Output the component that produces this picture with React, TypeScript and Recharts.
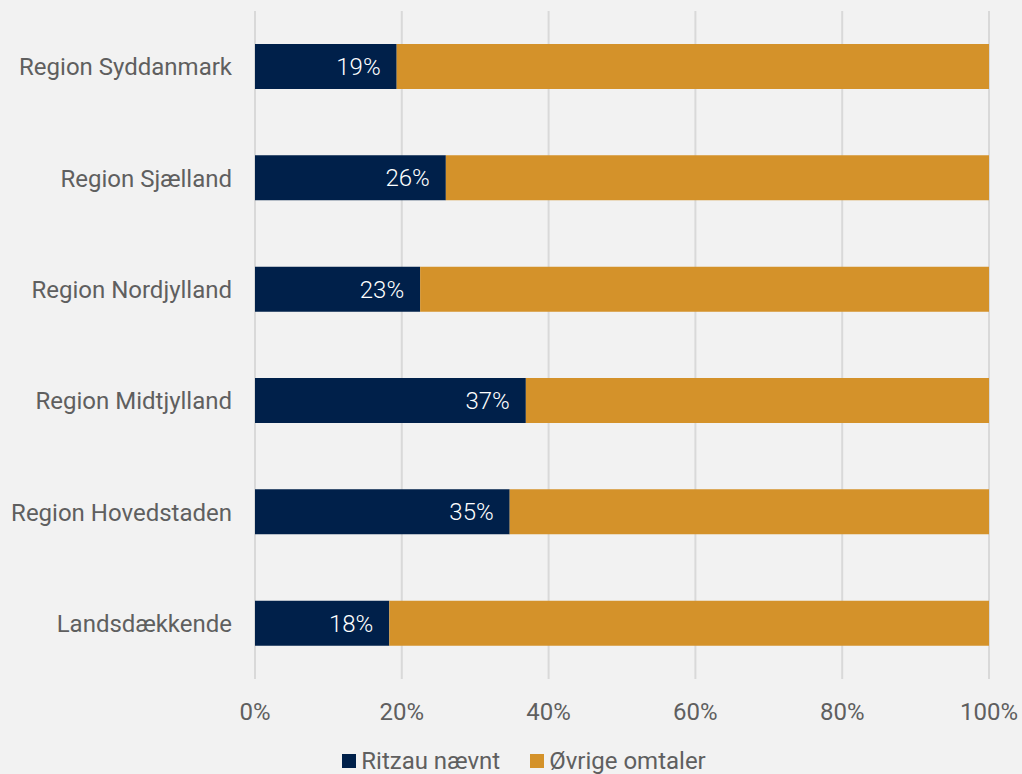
import React from 'react';
import { BarChart, Bar, XAxis, YAxis, CartesianGrid, Legend, LabelList } from 'recharts';

const categories = [
  'Region Syddanmark',
  'Region Sjælland',
  'Region Nordjylland',
  'Region Midtjylland',
  'Region Hovedstaden',
  'Landsdækkende',
];
const ritzauValues = [19.3, 26.0, 22.5, 36.9, 34.7, 18.3];
const otherValues = [80.7, 74.0, 77.5, 63.1, 65.3, 81.7];
const xTicks = [0, 20, 40, 60, 80, 100];
const seriesNames = ['Ritzau nævnt', 'Øvrige omtaler'];

const NAVY = '#00204a';
const GOLD = '#d4922a';
const TEXT = '#5f5f5f';
const FONT = 'Roboto, "Noto Sans", sans-serif';

const data = categories.map((c, i) => ({ name: c, ritzau: ritzauValues[i], other: otherValues[i] }));

const LegendContent = () => (
  <div
    style={{
      display: 'flex',
      justifyContent: 'center',
      alignItems: 'center',
      paddingLeft: 26,
      fontFamily: FONT,
      fontSize: 24,
      color: TEXT,
      lineHeight: '30px',
    }}
  >
    {[NAVY, GOLD].map((col, i) => (
      <div key={i} style={{ display: 'flex', alignItems: 'center', marginRight: i === 0 ? 30 : 0 }}>
        <span style={{ width: 14, height: 14, background: col, display: 'inline-block', marginRight: 5 }} />
        <span>{seriesNames[i]}</span>
      </div>
    ))}
  </div>
);

export default function App() {
  return (
    <div style={{ position: 'absolute', left: 0, top: 0, width: 1022, height: 774, background: '#f2f2f2' }}>
      <BarChart
        width={1022}
        height={774}
        data={data}
        layout="vertical"
        margin={{ top: 11, right: 33, bottom: 0, left: 0 }}
        style={{ fontFamily: FONT }}
      >
        <CartesianGrid horizontal={false} stroke="#d9d9d9" strokeWidth={2} />
        <XAxis
          type="number"
          domain={[0, 100]}
          ticks={xTicks}
          tickFormatter={(v: number) => `${v}%`}
          axisLine={false}
          tickLine={false}
          tickSize={0}
          tickMargin={24}
          height={65}
          tick={{ fill: TEXT, fontSize: 24, fontFamily: FONT }}
          interval={0}
        />
        <YAxis
          type="category"
          dataKey="name"
          width={255}
          axisLine={false}
          tickLine={false}
          tickSize={0}
          tickMargin={23}
          tick={{ fill: TEXT, fontSize: 24, fontFamily: FONT }}
          interval={0}
        />
        <Legend
          verticalAlign="bottom"
          height={30}
          content={<LegendContent />}
          wrapperStyle={{ position: 'absolute', top: 746, left: 0, width: 1022, height: 30 }}
        />
        <Bar dataKey="ritzau" name={seriesNames[0]} stackId="a" fill={NAVY} barSize={45} isAnimationActive={false}>
          <LabelList
            dataKey="ritzau"
            position="insideRight"
            offset={16}
            formatter={(v: number) => `${Math.round(v)}%`}
            style={{ fill: '#ffffff', fontSize: 24, fontFamily: FONT, fontWeight: 300 }}
          />
        </Bar>
        <Bar dataKey="other" name={seriesNames[1]} stackId="a" fill={GOLD} barSize={45} isAnimationActive={false} />
      </BarChart>
    </div>
  );
}
